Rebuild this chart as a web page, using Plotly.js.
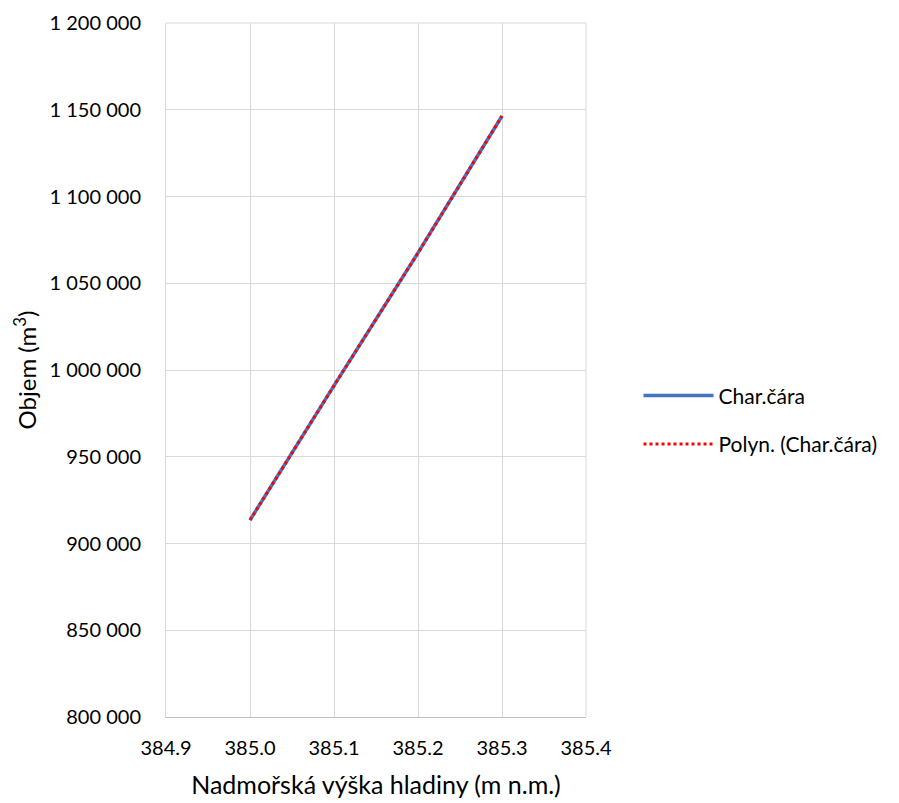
<!DOCTYPE html>
<html>
<head>
<meta charset="utf-8">
<script src="https://cdn.plot.ly/plotly-3.0.1.min.js"></script>
<style>body{margin:0;padding:0;background:#fff;}#chart{width:899px;height:803px;}</style>
</head>
<body>
<div id="chart"></div>
<script>
const elevations = [385.0, 385.1, 385.2, 385.3];
const volumes = [913500, 991000, 1067500, 1146400];
const trendVolumes = [913500, 991000, 1067500, 1146400];
const seriesName = "Char.čára";
const trendName = "Polyn. (Char.čára)";
const xTickVals = [384.9, 385.0, 385.1, 385.2, 385.3, 385.4];
const yTickVals = [800000, 850000, 900000, 950000, 1000000, 1050000, 1100000, 1150000, 1200000];

const font = "Lato, 'Liberation Sans', sans-serif";
const data = [
  {x: elevations, y: volumes, type: "scatter", mode: "lines", name: seriesName, legendgroup: "a",
   line: {color: "#4472C4", width: 3.5}},
  {x: elevations, y: trendVolumes, type: "scatter", mode: "lines", name: trendName, legendgroup: "b",
   line: {color: "#FF0000", width: 3, dash: "dot"}}
];
const layout = {
  width: 899, height: 803,
  margin: {l: 166, r: 313, t: 23, b: 86},
  paper_bgcolor: "#fff", plot_bgcolor: "#fff",
  separators: ". ",
  font: {family: font, size: 20, color: "#000"},
  showlegend: true,
  legend: {x: 1.125, y: 0.428, xanchor: "left", yanchor: "middle", font: {size: 21, family: font},
           traceorder: "grouped", tracegroupgap: 18, itemwidth: 70},
  xaxis: {
    range: [384.9, 385.4], tickvals: xTickVals, tickformat: ".1f",
    showgrid: true, gridcolor: "#d9d9d9", gridwidth: 1,
    showline: true, linecolor: "#bfbfbf", linewidth: 1, mirror: false,
    zeroline: false, ticks: "", ticklen: 0, ticklabelstandoff: 13,
    tickfont: {size: 20},
    title: {text: "Nadmořská výška hladiny (m n.m.)", font: {size: 25}, standoff: 18}
  },
  yaxis: {
    range: [800000, 1200000], tickvals: yTickVals, tickformat: ",d",
    showgrid: true, gridcolor: "#d9d9d9", gridwidth: 1,
    showline: true, linecolor: "#d9d9d9", linewidth: 1,
    zeroline: false, ticks: "", ticklen: 0, ticklabelstandoff: 20,
    tickfont: {size: 20},
    title: {text: "Objem (m<sup>3</sup>)", font: {size: 24}, standoff: 6}
  },
  shapes: [
    {type: "line", xref: "paper", yref: "paper", x0: 0, x1: 1, y0: 1, y1: 1, line: {color: "#d9d9d9", width: 1}},
    {type: "line", xref: "paper", yref: "paper", x0: 1, x1: 1, y0: 0, y1: 1, line: {color: "#d9d9d9", width: 1}}
  ]
};
Plotly.newPlot("chart", data, layout, {displayModeBar: false, staticPlot: true});
</script>
</body>
</html>
